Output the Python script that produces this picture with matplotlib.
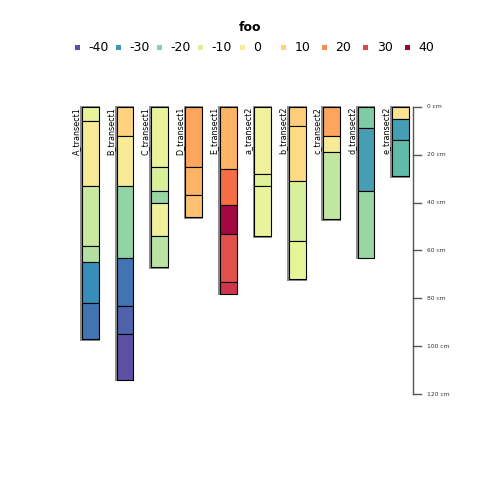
import matplotlib
matplotlib.use("Agg")
import matplotlib.pyplot as plt
from matplotlib.patches import Rectangle
import matplotlib.colors as mcolors

# Perfiles y horizontes (profundidad en cm)
profile_names = ["A_transect1", "B_transect1", "C_transect1", "D_transect1", "E_transect1",
                 "a_transect2", "b_transect2", "c_transect2", "d_transect2", "e_transect2"]

horizon_bottoms = [
    [6, 33, 58, 65, 82, 97],
    [12, 33, 63, 83, 95, 114],
    [25, 35, 40, 54, 67],
    [25, 37, 46],
    [26, 41, 53, 73, 78],
    [28, 33, 54],
    [8, 31, 56, 72],
    [12, 19, 47],
    [9, 35, 63],
    [5, 14, 29],
]

horizon_values = [
    [-6, 3, -12, -15, -31, -35],
    [10, 3, -19, -35, -37, -40],
    [-6, -10, -18, -3, -14],
    [17, 15, 13],
    [15, 24, 39, 29, 33],
    [-3, -9, -6],
    [11, 9, -10, -8],
    [17, 3, -13],
    [-21, -29, -18],
    [6, -29, -25],
]

legend_values = [-40, -30, -20, -10, 0, 10, 20, 30, 40]
legend_labels = ["-40", "-30", "-20", "-10", "0", "10", "20", "30", "40"]

depth_ticks = [0, 20, 40, 60, 80, 100, 120]

# Spectral invertida con el centro algo más saturado
spectral = ["#5e4fa2", "#3288bd", "#66c2a5", "#abdda4", "#e6f598", "#f4ee9c",
            "#fee08b", "#fdae61", "#f46d43", "#d53e4f", "#9e0142"]
cmap = mcolors.LinearSegmentedColormap.from_list("spec", spectral)
norm = mcolors.Normalize(vmin=-40, vmax=40)

fig = plt.figure(figsize=(4.8, 4.8), dpi=100)
ax = fig.add_axes([0.1168, 0.1542, 0.8036, 0.6728])
ax.set_xlim(-1, 10.2)
ax.set_ylim(125, -10)
ax.axis("off")

width = 0.49
for i, name in enumerate(profile_names):
    tops = [0] + horizon_bottoms[i][:-1]
    left = i - width / 2
    # sombra / contorno gris del perfil
    ax.add_patch(Rectangle((left - 0.02, 0), width + 0.02, horizon_bottoms[i][-1] + 0.3,
                           facecolor="none", edgecolor="#888888", lw=1.4, zorder=1))
    for top, bot, val in zip(tops, horizon_bottoms[i], horizon_values[i]):
        ax.add_patch(Rectangle((left, top), width, bot - top,
                               facecolor=cmap(norm(val)), edgecolor="black", lw=0.8, zorder=2))
    ax.text(left - 0.04, 0, name, rotation=90, ha="right", va="top",
            fontsize=5.8, color="black")

# Eje de profundidad
x_axis = 9.36
ax.plot([x_axis, x_axis], [0, 120], color="#555555", lw=1, zorder=1)
for d in depth_ticks:
    ax.plot([x_axis, x_axis + 0.23], [d, d], color="#555555", lw=1)
    ax.text(x_axis + 0.42, d, f"{d} cm", fontsize=4.3, va="center", ha="left", color="#333333")

# Título y leyenda
fig.text(0.52, 0.942, "foo", fontsize=9, fontweight="bold", ha="center", va="center")
step = 41.25 / 480
for i, (v, lab) in enumerate(zip(legend_values, legend_labels)):
    xc = 77 / 480 + i * step
    yc = 1 - 47.5 / 480
    fig.add_artist(Rectangle((xc - 2.5 / 480, yc - 2.5 / 480), 5 / 480, 5 / 480,
                             facecolor=cmap(norm(v)), edgecolor="none",
                             transform=fig.transFigure))
    fig.text(xc + 11 / 480, yc, lab, fontsize=9, va="center", ha="left")

fig.savefig("out.png", dpi=100)
